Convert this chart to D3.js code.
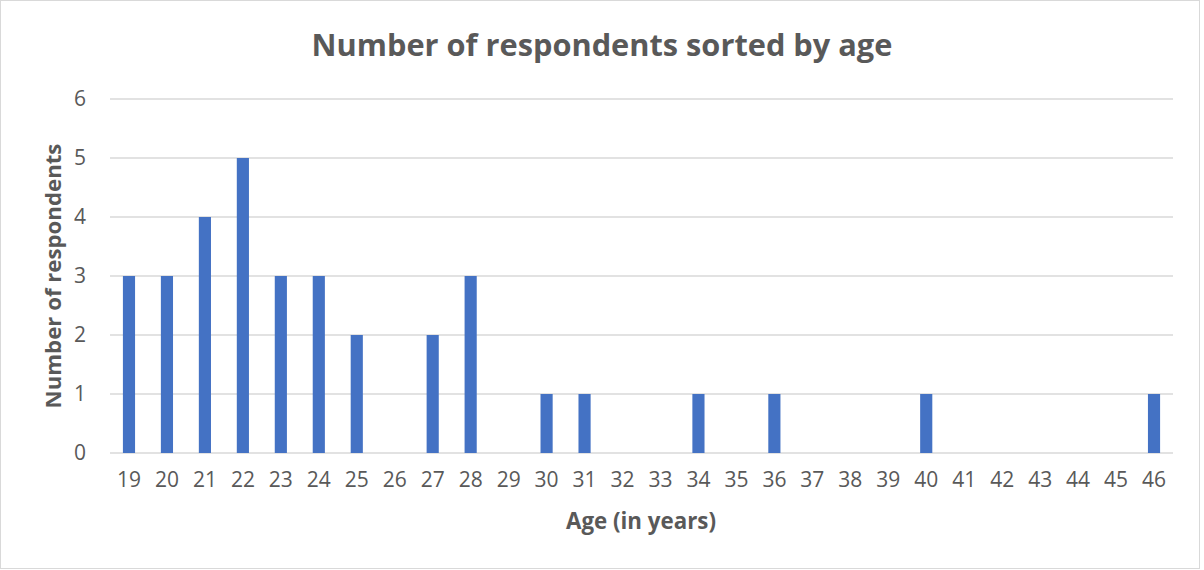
<!DOCTYPE html>
<html>
<head>
<meta charset="utf-8">
<script src="https://cdn.jsdelivr.net/npm/d3@7"></script>
<style>
  html, body { margin: 0; padding: 0; background: #fff; }
  svg { display: block; }
  text { font-family: "Open Sans", sans-serif; fill: #595959; }
</style>
</head>
<body>
<svg id="chart" width="1204" height="570"></svg>
<script>
// Respondents per age
const ages = ["19","20","21","22","23","24","25","26","27","28","29","30","31","32","33","34","35","36","37","38","39","40","41","42","43","44","45","46"];
const counts = [3,3,4,5,3,3,2,0,2,3,0,1,1,0,0,1,0,1,0,0,0,1,0,0,0,0,0,1];
const yTicks = [0,1,2,3,4,5,6];

const titleText = "Number of respondents sorted by age";
const xTitle = "Age (in years)";
const yTitle = "Number of respondents";

const W = 1204, H = 570;
const margin = { left: 110, right: 31, top: 99, bottom: 117 };
const svg = d3.select("#chart");

// outer frame
svg.append("rect")
  .attr("x", 0.5).attr("y", 0.5)
  .attr("width", W - 5).attr("height", H - 2)
  .attr("fill", "#fff").attr("stroke", "#d9d9d9").attr("stroke-width", 1);

const x = d3.scaleBand()
  .domain(ages)
  .range([margin.left, W - margin.right])
  .paddingInner(0.68).paddingOuter(0.34);

const y = d3.scaleLinear()
  .domain([0, 6])
  .range([H - margin.bottom, margin.top]);

// horizontal gridlines
svg.append("g")
  .selectAll("line")
  .data(yTicks)
  .join("line")
  .attr("x1", margin.left).attr("x2", W - margin.right)
  .attr("y1", d => y(d)).attr("y2", d => y(d))
  .attr("stroke", "#d9d9d9").attr("stroke-width", 1.3);

// y tick labels
const yAxis = d3.axisLeft(y).tickValues(yTicks).tickFormat(d3.format("d")).tickSize(0).tickPadding(24);
const gy = svg.append("g").attr("transform", `translate(${margin.left},0)`).call(yAxis);
gy.select(".domain").remove();
gy.selectAll("text").attr("font-size", 21).attr("fill", "#595959")
  .style("font-family", "'Open Sans', sans-serif");

// bars
svg.append("g")
  .selectAll("rect")
  .data(ages.map((a, i) => ({ age: a, n: counts[i] })))
  .join("rect")
  .attr("x", d => x(d.age))
  .attr("width", x.bandwidth())
  .attr("y", d => y(d.n))
  .attr("height", d => y(0) - y(d.n))
  .attr("fill", "#4472c4");

// x tick labels
const xAxis = d3.axisBottom(x).tickSize(0).tickPadding(19);
const gx = svg.append("g").attr("transform", `translate(0,${y(0)})`).call(xAxis);
gx.select(".domain").remove();
gx.selectAll("text").attr("font-size", 21).attr("fill", "#595959")
  .style("font-family", "'Open Sans', sans-serif");

// size a label so it spans a given width
function fitText(sel, width, base) {
  const w = sel.node().getComputedTextLength();
  sel.attr("font-size", base * width / w);
}

// titles
const t = svg.append("text")
  .attr("x", 602).attr("y", 56)
  .attr("text-anchor", "middle")
  .attr("font-size", 28).attr("font-weight", "bold")
  .text(titleText);
fitText(t, 581, 28);

const xt = svg.append("text")
  .attr("x", 641).attr("y", 529)
  .attr("text-anchor", "middle")
  .attr("font-size", 20).attr("font-weight", "bold")
  .text(xTitle);
fitText(xt, 150, 20);

const yt = svg.append("text")
  .attr("transform", `translate(61,${(y(0) + y(6)) / 2}) rotate(-90)`)
  .attr("text-anchor", "middle")
  .attr("font-size", 20).attr("font-weight", "bold")
  .text(yTitle);
fitText(yt, 265, 20);
</script>
</body>
</html>
